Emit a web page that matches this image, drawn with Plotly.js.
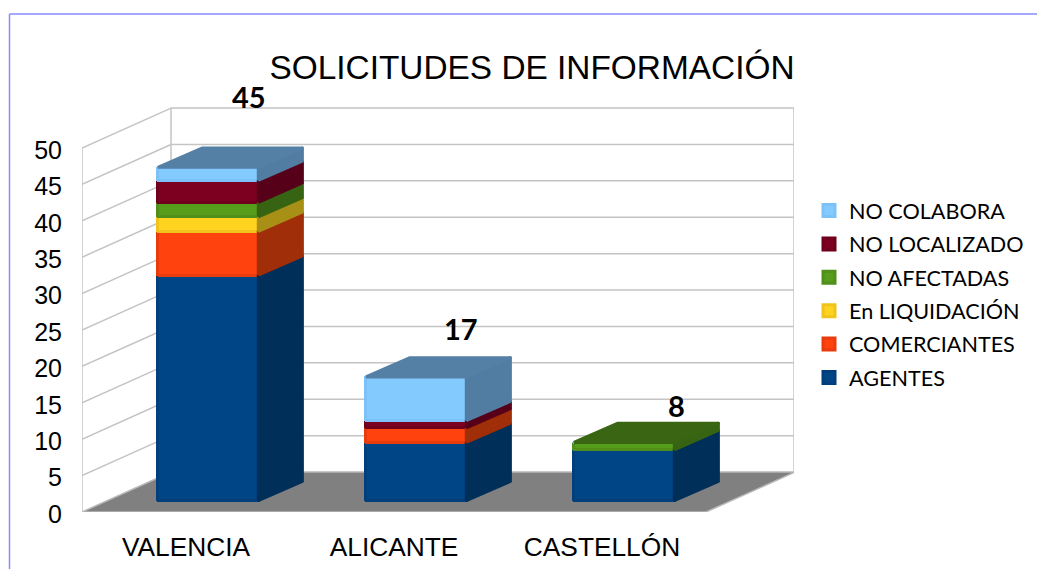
<!DOCTYPE html>
<html>
<head>
<meta charset="utf-8">
<script src="https://cdn.plot.ly/plotly-3.0.1.min.js"></script>
<style>
html,body{margin:0;padding:0;background:#fff;overflow:hidden}
#chart{width:1037px;height:569px}
.barlayer path{stroke-linejoin:round}
.scatterlayer path.js-line{stroke-linejoin:round}
.legendbar path{transform:translate(8px,0) scale(1.35)}
</style>
</head>
<body>
<div id="chart"></div>
<script>
const categories = ['VALENCIA', 'ALICANTE', 'CASTELLÓN'];
const seriesNames = ['AGENTES', 'COMERCIANTES', 'En LIQUIDACIÓN', 'NO AFECTADAS', 'NO LOCALIZADO', 'NO COLABORA'];
const agentes = [31, 8, 7];
const comerciantes = [6, 2, 0];
const liquidacion = [2, 0, 0];
const noAfectadas = [2, 0, 1];
const noLocalizado = [3, 1, 0];
const noColabora = [1.8, 6, 0];
const totalLabels = ['45', '17', '8'];
const yTicks = [0, 5, 10, 15, 20, 25, 30, 35, 40, 45, 50];

const frontColors = ['#004586', '#ff420e', '#ffd320', '#579d1c', '#7e0021', '#83caff'];
const sideColors = ['#002f59', '#a02e08', '#a89016', '#376412', '#560019', '#527da3'];
const topColors = ['#00386b', '#a8340a', '#b09a18', '#3a6614', '#5c001a', '#5580a6'];
const edgeColors = ['#003f7c', '#e83c0c', '#f0c41c', '#4f8f1a', '#6f001d', '#7cc2f8'];

const seriesValues = [agentes, comerciantes, liquidacion, noAfectadas, noLocalizado, noColabora];

// projection of the pseudo-3D box, in axis units
const wallDx = 0.428, wallDy = 5.49;
const barDx = 0.212, barDy = 2.65;
const barWidth = 0.483;
const barShiftX = 0.106, barShiftY = 1.55;
const xRange = [-0.5, 2.923], yRange = [0, 56.05];
const xDomain = [82 / 1037, 794 / 1037], yDomain = [57 / 569, 465 / 569];

const traces = [];

// floor
traces.push({
  type: 'scatter', mode: 'lines', xaxis: 'x', yaxis: 'y', showlegend: false, hoverinfo: 'skip',
  x: [xRange[0], 2.5, 2.5 + wallDx, xRange[0] + wallDx, xRange[0]],
  y: [0, 0, wallDy, wallDy, 0],
  fill: 'toself', fillcolor: '#808080', line: {color: '#b8b8b8', width: 1.5}, cliponaxis: false
});

// wall grid lines
const gx = [], gy = [];
yTicks.forEach(t => {
  if (t === 0) return;
  gx.push(xRange[0], xRange[0] + wallDx, xRange[1], null);
  gy.push(t, t + wallDy, t + wallDy, null);
});
gx.push(xRange[0], xRange[0], null, xRange[0] + wallDx, xRange[0] + wallDx, null, xRange[1], xRange[1]);
gy.push(0, 50, null, wallDy, 50 + wallDy, null, wallDy, 50 + wallDy);
traces.push({
  type: 'scatter', mode: 'lines', xaxis: 'x', yaxis: 'y', showlegend: false, hoverinfo: 'skip',
  x: gx, y: gy, line: {color: '#c4c4c4', width: 1.5}, cliponaxis: false
});

// stacked front faces, side faces, top faces
const totals = categories.map((_, i) => seriesValues.reduce((a, s) => a + s[i], 0));
seriesValues.forEach((vals, s) => {
  traces.push({
    type: 'bar', name: seriesNames[s], xaxis: 'x2', yaxis: 'y2', legendgroup: 'g' + s,
    legendrank: seriesNames.length - s,
    x: categories.map((_, i) => i), y: vals, width: barWidth,
    marker: {color: frontColors[s], line: {color: edgeColors[s], width: 3}}
  });
  const sx = [], sy = [], tx = [], ty = [];
  vals.forEach((v, i) => {
    let below = 0;
    for (let k = 0; k < s; k++) below += seriesValues[k][i];
    const xr = i + barWidth / 2, xl = i - barWidth / 2;
    if (v > 0) {
      sx.push(xr, xr + barDx, xr + barDx, xr, xr, null);
      sy.push(below, below + barDy, below + v + barDy, below + v, below, null);
    }
    if (v > 0 && below + v === totals[i]) {
      tx.push(xl, xr, xr + barDx, xl + barDx, xl, null);
      ty.push(totals[i], totals[i], totals[i] + barDy, totals[i] + barDy, totals[i], null);
    }
  });
  traces.push({
    type: 'scatter', mode: 'lines', xaxis: 'x2', yaxis: 'y2', showlegend: false, hoverinfo: 'skip',
    legendgroup: 'g' + s, x: sx, y: sy, fill: 'toself', fillcolor: sideColors[s],
    line: {color: sideColors[s], width: 3}
  });
  if (tx.length) traces.push({
    type: 'scatter', mode: 'lines', xaxis: 'x2', yaxis: 'y2', showlegend: false, hoverinfo: 'skip',
    legendgroup: 'g' + s, x: tx, y: ty, fill: 'toself', fillcolor: topColors[s],
    line: {color: topColors[s], width: 3}
  });
});

const labelShiftX = [41, 45, 52];
const labelShiftY = [71, 48, 37];
const annotations = totalLabels.map((t, i) => ({
  xref: 'x2', yref: 'y2', x: i, y: totals[i], text: t, showarrow: false,
  xanchor: 'center', yanchor: 'middle', xshift: labelShiftX[i], yshift: labelShiftY[i],
  font: {family: 'Lato, sans-serif', size: 29, color: '#000', weight: 700}
}));

const layout = {
  width: 1037, height: 569, margin: {l: 0, r: 0, t: 0, b: 0, pad: 0},
  paper_bgcolor: '#fff', plot_bgcolor: 'rgba(0,0,0,0)', barmode: 'stack', hovermode: false,
  font: {family: '"Liberation Sans", Arial, sans-serif', color: '#000'},
  title: {
    text: 'SOLICITUDES DE INFORMACIÓN', x: 532 / 1037, xanchor: 'center', xref: 'paper',
    y: 1 - 67 / 569, yanchor: 'middle', yref: 'paper',
    font: {family: '"Liberation Sans", Arial, sans-serif', size: 33.4, color: '#000'}
  },
  xaxis: {
    domain: xDomain, range: xRange, showgrid: false, zeroline: false, showline: false,
    tickmode: 'array', tickvals: categories.map((_, i) => i), ticktext: categories,
    ticks: 'outside', ticklen: 11, tickcolor: 'rgba(0,0,0,0)', tickfont: {size: 26.3}
  },
  yaxis: {
    domain: yDomain, range: yRange, showgrid: false, zeroline: false, showline: false,
    tickmode: 'array', tickvals: yTicks, ticktext: yTicks.map(String),
    ticks: 'outside', ticklen: 14, tickcolor: 'rgba(0,0,0,0)', tickfont: {size: 25},
    ticklabelshift: 2
  },
  xaxis2: {
    domain: xDomain, range: [xRange[0] - barShiftX, xRange[1] - barShiftX],
    overlaying: 'x', anchor: 'y2', visible: false
  },
  yaxis2: {
    domain: yDomain, range: [yRange[0] - barShiftY, yRange[1] - barShiftY],
    overlaying: 'y', anchor: 'x2', visible: false
  },
  legend: {
    x: 809 / 1037, xanchor: 'left', y: 1 - 190 / 569, yanchor: 'top',
    traceorder: 'grouped', tracegroupgap: 2.3, bgcolor: 'rgba(0,0,0,0)',
    font: {family: 'Lato, sans-serif', size: 21.6, color: '#000'}
  },
  annotations: annotations,
  shapes: [
    {type: 'line', xref: 'paper', yref: 'paper', x0: 9.5 / 1037, x1: 1, y0: 1 - 14 / 569, y1: 1 - 14 / 569, line: {color: '#8a8aff', width: 1.5}},
    {type: 'line', xref: 'paper', yref: 'paper', x0: 9.5 / 1037, x1: 9.5 / 1037, y0: 1 - 14 / 569, y1: 0, line: {color: '#8a8aff', width: 1.5}}
  ]
};

Plotly.newPlot('chart', traces, layout, {displayModeBar: false, staticPlot: true});
</script>
</body>
</html>
